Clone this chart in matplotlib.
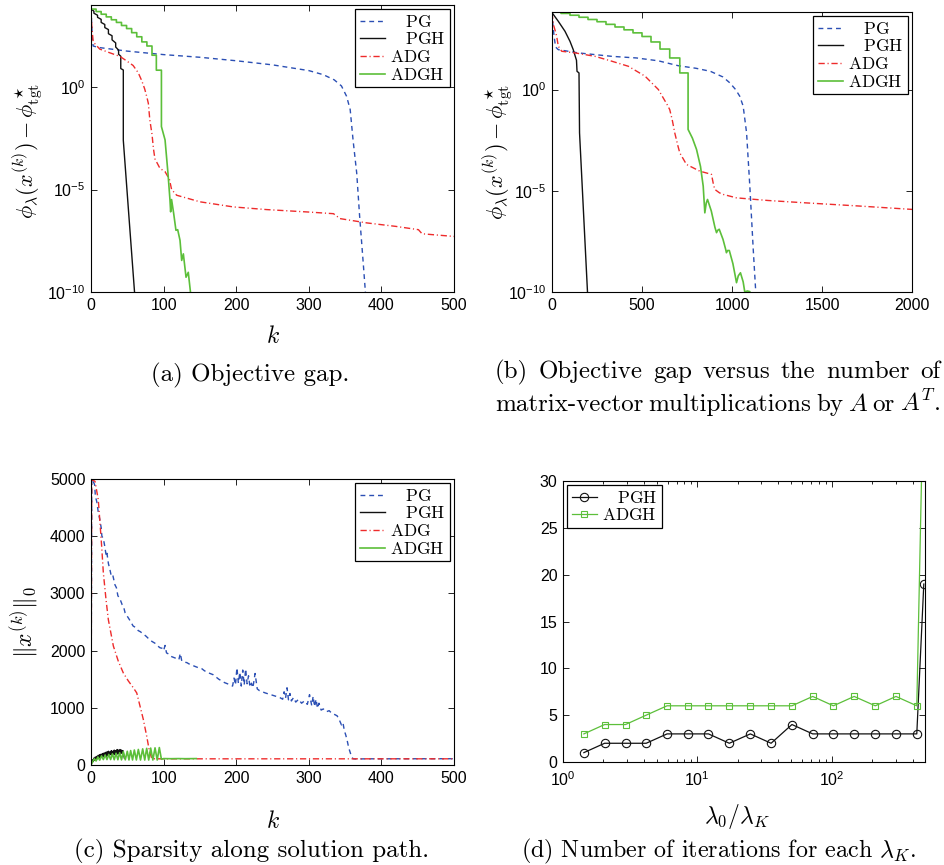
import numpy as np
import matplotlib
matplotlib.use("Agg")
import matplotlib.pyplot as plt
from matplotlib.ticker import NullLocator, LogLocator, NullFormatter

plt.rcParams["font.family"] = ["Liberation Sans", "DejaVu Sans"]
plt.rcParams["mathtext.fontset"] = "cm"
# sans math font used only for the log tick labels (math_fontfamily="custom")
plt.rcParams["mathtext.rm"] = "Liberation Sans"
plt.rcParams["mathtext.it"] = "Liberation Sans:italic"
plt.rcParams["mathtext.bf"] = "Liberation Sans:bold"

BLUE = "#2b4fb4"
RED = "#ee2b2b"
GREEN = "#5cbf3a"
BLACK = "#111111"

# ---------------- (a) objective gap vs k  (log10 of gap) ----------------
pg_a_k = [0, 1, 2, 3, 10, 50, 100, 150, 200, 250, 300, 320, 335, 345, 352, 357, 361, 366, 370, 375, 379]
pg_a_v = [3.8, 3.0, 2.3, 2.0, 1.93, 1.75, 1.58, 1.45, 1.28, 1.08, 0.8, 0.6, 0.35, 0.05, -0.45, -1.1, -2.6, -4.2, -6.3, -8.6, -10.5]

pgh_a_k = [0, 4, 4, 9, 9, 14, 14, 19, 19, 24, 24, 29, 29, 34, 34, 38, 38, 41, 41, 44.5, 44.5, 52, 61]
pgh_a_v = [3.8, 3.7, 3.6, 3.5, 3.4, 3.3, 3.15, 3.05, 2.9, 2.8, 2.6, 2.5, 2.3, 2.15, 1.95, 1.8, 1.6, 1.5, 0.9, 0.83, -2.6, -6.2, -10.5]

adg_a_k = [0, 1, 3, 12, 25, 40, 50, 58, 65, 70, 74, 77, 79, 81, 84, 86, 88, 95, 102, 108,
           111, 118, 150, 196, 242, 300, 334, 343, 380, 420, 451, 456, 500]
adg_a_v = [3.8, 3.0, 2.2, 1.85, 1.68, 1.49, 1.25, 1.05, 0.7, 0.3, -0.1, -0.5, -0.8, -1.6, -2.3, -3.0, -3.5, -3.97, -4.13, -4.5,
           -5.0, -5.28, -5.6, -5.85, -5.98, -6.1, -6.18, -6.42, -6.63, -6.8, -6.96, -7.16, -7.29]

adgh_a_edges = [0, 7, 14, 21, 28, 35, 42, 49, 56, 63, 70, 77, 84, 90, 97]
adgh_a_levels = [3.8, 3.68, 3.55, 3.42, 3.28, 3.15, 3.0, 2.85, 2.65, 2.45, 2.2, 2.0, 1.55, 0.82]
adgh_a_tail_k = [97, 102, 106, 108.8, 109.7, 111, 114, 117, 119.4, 122.6, 124.9, 127.2, 130.9, 134, 137.3, 140]
adgh_a_tail_v = [-1.93, -2.58, -4.2, -5.52, -6.09, -5.49, -6.2, -6.99, -6.96, -7.48, -8.46, -8.14, -9.28, -9.04, -10.1, -10.6]

# ---------------- (b) objective gap vs mat-vec count ----------------
pg_b_x = [0, 5, 12, 20, 35, 146, 332, 469, 590, 700, 800, 880, 950, 988, 1020, 1043, 1062, 1081, 1099, 1118, 1132, 1140]
pg_b_v = [3.8, 3.2, 2.6, 2.1, 1.97, 1.81, 1.64, 1.56, 1.42, 1.18, 1.05, 0.9, 0.62, 0.33, 0.0, -0.33, -0.82, -2.14, -4.77, -7.9, -10.0, -11.0]

pgh_b_x = [0, 35, 72, 100, 118, 132, 136, 139, 150, 153, 200]
pgh_b_v = [3.8, 3.37, 2.88, 2.38, 1.97, 1.56, 1.45, 0.9, 0.82, -2.14, -10.5]

adg_b_x = [0, 8, 18, 26, 35, 54, 128, 239, 332, 424, 517, 591, 617, 640, 654, 668, 682, 700, 710, 747,
           821, 886, 895, 904, 930, 951, 1025, 1200, 1396, 1700, 2000]
adg_b_v = [3.8, 3.2, 2.9, 2.63, 2.14, 1.89, 1.81, 1.64, 1.4, 1.15, 0.66, 0.0, -0.4, -0.75, -0.99, -1.5, -2.14, -2.8, -3.13, -3.7,
           -4.03, -4.19, -4.6, -4.93, -5.1, -5.18, -5.35, -5.48, -5.59, -5.75, -5.92]

adgh_b_edges = [0, 50, 100, 150, 200, 250, 300, 350, 400, 450, 500, 550, 600, 654, 710, 756]
adgh_b_levels = [3.82, 3.76, 3.67, 3.57, 3.46, 3.35, 3.22, 3.09, 2.95, 2.8, 2.62, 2.35, 2.0, 1.56, 0.82]
adgh_b_tail_x = [756, 780, 803, 825, 840, 849, 857, 864, 885, 905, 914, 921, 929, 950, 965,
                 969, 976, 985, 1005, 1020, 1025, 1035, 1047, 1062, 1071, 1085, 1099, 1110]
adgh_b_tail_v = [-1.97, -2.4, -2.96, -3.8, -4.77, -6.09, -5.6, -5.43, -6.0, -6.8, -7.07, -6.95, -6.9, -7.4, -7.9,
                 -8.06, -7.95, -7.95, -8.6, -9.3, -9.54, -9.2, -9.05, -9.5, -10.0, -9.95, -9.98, -10.5]

# ---------------- (c) sparsity along the path ----------------
pg_c_k = [0, 1, 3, 5, 6, 8, 10, 12, 14, 15,
          17, 19, 21, 22, 24, 26, 28, 30, 33, 35,
          37, 40, 43, 45, 47, 50, 54, 58, 62, 65,
          68, 72, 76, 80, 84, 88, 92, 95, 98, 100,
          102, 104, 107, 110, 114, 118, 121, 123, 125, 128,
          132, 136, 140, 144, 148, 152, 156, 160, 164, 168,
          172, 176, 180, 184, 188, 192, 195, 197, 199, 201,
          203, 205, 207, 209, 211, 213, 215, 217, 219, 221,
          223, 226, 229, 232, 236, 240, 245, 250, 255, 260,
          264, 266, 268, 270, 272, 274, 276, 279, 282, 286,
          290, 294, 298, 301, 304, 306, 308, 310, 312, 314,
          317, 320, 324, 328, 332, 336, 339, 342, 345, 347,
          349, 351, 353, 355, 357, 359, 361, 364, 380, 500]
pg_c_n = [0, 5000, 4960, 4900, 4700, 4600, 4420, 4300, 4150, 4000,
          3960, 3820, 3650, 3700, 3520, 3420, 3300, 3320, 3150, 3100,
          2960, 2900, 2800, 2760, 2660, 2600, 2520, 2430, 2400, 2350,
          2330, 2290, 2250, 2200, 2160, 2130, 2080, 2050, 2040, 2000,
          2090, 1960, 1940, 1900, 1880, 1860, 1840, 1950, 1820, 1800,
          1790, 1760, 1740, 1720, 1700, 1690, 1650, 1620, 1600, 1580,
          1540, 1500, 1470, 1440, 1420, 1400, 1380, 1520, 1400, 1700,
          1430, 1620, 1380, 1660, 1400, 1680, 1420, 1560, 1360, 1430,
          1350, 1600, 1330, 1300, 1280, 1260, 1240, 1220, 1200, 1180,
          1150, 1280, 1170, 1350, 1140, 1250, 1120, 1180, 1100, 1150,
          1080, 1120, 1060, 1230, 1040, 1200, 1020, 1150, 990, 1080,
          960, 980, 930, 950, 900, 880, 860, 790, 700, 740,
          600, 520, 420, 300, 220, 140, 110, 105, 108, 110]

pgh_c_n = [0, 40, 90, 60, 120, 80, 140, 100, 150, 110, 170, 120, 180, 130, 190, 140, 200, 150, 210, 160,
           220, 150, 230, 170, 240, 160, 230, 180, 250, 170, 240, 190, 260, 180, 250, 200, 270, 190, 260, 210,
           270, 200, 260, 210, 250, 180, 120]

adg_c_k = [0, 1, 5.5, 10, 12.4, 14.7, 17, 20.7, 23.9, 30.8, 37.6, 44.5, 51.4, 58.3, 63, 67.5, 72, 76.7, 80, 83.6, 88, 500]
adg_c_n = [0, 4990, 4960, 4640, 4230, 3820, 3360, 2890, 2540, 2080, 1815, 1610, 1470, 1350, 1260, 1030, 800, 506, 273, 116, 108, 108]

adgh_c_k = [0, 2, 4.5, 7, 9.5, 12, 14.5, 17, 19.5, 22, 24.5, 27, 29.5, 32, 34.5, 37, 39.5, 42, 44.5, 47.2,
            50, 52.3, 54.6, 57.2, 59.7, 62.5, 65.2, 68.2, 71.2, 74, 76.7, 79.5, 82.2, 85.2, 88.2, 91.2, 94.1, 97, 100, 110,
            120, 130, 145]
adgh_c_n = [0, 50, 110, 70, 140, 85, 160, 95, 175, 95, 185, 95, 195, 92, 205, 92, 215, 90, 233, 90,
            240, 88, 252, 88, 262, 88, 272, 87, 282, 87, 291, 87, 296, 87, 300, 87, 305, 100, 112, 110,
            112, 110, 112]

# ---------------- (d) iterations per lambda_K ----------------
lam_ratio = [1.43, 2.04, 2.92, 4.16, 5.95, 8.50, 12.1, 17.3, 24.8, 35.4, 50.6, 72.2, 103, 147, 211, 301, 430, 485]
pgh_iters = [1, 2, 2, 2, 3, 3, 3, 2, 3, 2, 4, 3, 3, 3, 3, 3, 3, 19]
adgh_iters = [3, 4, 4, 5, 6, 6, 6, 6, 6, 6, 6, 7, 6, 7, 6, 7, 6, 42]


def stairs(edges, levels):
    xs, ys = [], []
    for i, lv in enumerate(levels):
        xs += [edges[i], edges[i + 1]]
        ys += [lv, lv]
    return xs, ys


W, H = 944, 865
fig = plt.figure(figsize=(W / 100, H / 100), dpi=100)


def add_axes(x0, y0, x1, y1):
    return fig.add_axes([x0 / W, 1 - y1 / H, (x1 - x0) / W, (y1 - y0) / H])


TICK = 11.5


def style(ax):
    ax.tick_params(which="both", direction="in", top=True, right=True, labelsize=TICK, width=0.6, pad=4)
    ax.tick_params(which="major", length=4.5)
    ax.tick_params(which="minor", length=2.2)
    ax.tick_params(axis="x", pad=4.5)
    for s in ax.spines.values():
        s.set_linewidth(0.8)


def legend(ax, loc):
    leg = ax.legend(loc=loc, fontsize=12.5, fancybox=False, edgecolor="black", framealpha=1,
                    borderpad=0.25, labelspacing=0.1, handlelength=1.45, handletextpad=0.3,
                    borderaxespad=0.25)
    leg.get_frame().set_linewidth(0.9)


LABELS = [r"$\quad\mathrm{PG}$", r"$\quad\mathrm{PGH}$", r"$\mathrm{ADG}$", r"$\mathrm{ADGH}$"]
DASH = (3.5, 2.8)
DASHDOT = (4.5, 2.0, 0.8, 2.0)
p10 = lambda v: np.power(10.0, v)

ax_a = add_axes(91, 5, 454, 292)
ax_b = add_axes(552, 12, 912, 292)
ax_c = add_axes(91, 479, 454, 765)
ax_d = add_axes(563, 481, 925, 762)

# (a)
ax_a.plot(pg_a_k, p10(pg_a_v), color=BLUE, lw=1.0, dashes=DASH, label=LABELS[0])
ax_a.plot(pgh_a_k, p10(pgh_a_v), color=BLACK, lw=1.0, label=LABELS[1])
ax_a.plot(adg_a_k, p10(adg_a_v), color=RED, lw=1.0, dashes=DASHDOT, label=LABELS[2])
sx, sy = stairs(adgh_a_edges, adgh_a_levels)
ax_a.plot(sx + adgh_a_tail_k, p10(sy + adgh_a_tail_v), color=GREEN, lw=1.2, label=LABELS[3])
ax_a.set_xlim(0, 500)
ax_a.set_yscale("log")
ax_a.set_ylim(1e-10, 1e4)

# (b)
ax_b.plot(pg_b_x, p10(pg_b_v), color=BLUE, lw=1.0, dashes=DASH, label=LABELS[0])
ax_b.plot(pgh_b_x, p10(pgh_b_v), color=BLACK, lw=1.0, label=LABELS[1])
ax_b.plot(adg_b_x, p10(adg_b_v), color=RED, lw=1.0, dashes=DASHDOT, label=LABELS[2])
sx, sy = stairs(adgh_b_edges, adgh_b_levels)
ax_b.plot(sx + adgh_b_tail_x, p10(sy + adgh_b_tail_v), color=GREEN, lw=1.2, label=LABELS[3])
ax_b.set_xlim(0, 2000)
ax_b.set_yscale("log")
ax_b.set_ylim(1e-10, 10 ** 3.83)
ax_b.set_xticks([0, 500, 1000, 1500, 2000])

for ax in (ax_a, ax_b):
    ax.set_yticks([1e-10, 1e-5, 1], [r"$10^{-10}$", r"$10^{-5}$", r"$10^{0}$"], math_fontfamily="custom")
    ax.yaxis.set_minor_locator(NullLocator())
    style(ax)
    legend(ax, "upper right")
    ax.set_ylabel(r"$\phi_\lambda(x^{(k)}) - \phi^\star_{\rm tgt}$", fontsize=16, va="center")
ax_a.set_xlabel(r"$k$", fontsize=17, va="center")
ax_a.xaxis.set_label_coords(0.5, -0.157)
ax_a.yaxis.set_label_coords(-0.174, 0.49)
ax_b.yaxis.set_label_coords(-0.15, 0.5)

# (c)
ax_c.plot(pg_c_k, pg_c_n, color=BLUE, lw=1.0, dashes=DASH, label=LABELS[0])
ax_c.plot(np.arange(len(pgh_c_n)), pgh_c_n, color=BLACK, lw=1.0, label=LABELS[1])
ax_c.plot(adg_c_k, adg_c_n, color=RED, lw=1.0, dashes=DASHDOT, label=LABELS[2])
ax_c.plot(adgh_c_k, adgh_c_n, color=GREEN, lw=1.2, label=LABELS[3])
ax_c.set_xlim(0, 500)
ax_c.set_ylim(0, 5000)
ax_c.set_yticks([0, 1000, 2000, 3000, 4000, 5000])
style(ax_c)
legend(ax_c, "upper right")
ax_c.set_xlabel(r"$k$", fontsize=17, va="center")
ax_c.xaxis.set_label_coords(0.5, -0.2)
ax_c.set_ylabel(r"$\|x^{(k)}\|_0$", fontsize=17, va="center")
ax_c.yaxis.set_label_coords(-0.182, 0.5)

# (d)
ax_d.plot(lam_ratio, pgh_iters, color=BLACK, lw=0.9, marker="o", ms=6, mfc="none", mew=0.8,
          label=r"$\quad\mathrm{PGH}$")
ax_d.plot(lam_ratio, adgh_iters, color=GREEN, lw=0.9, marker="s", ms=4.6, mfc="none", mew=0.8,
          label=r"$\mathrm{ADGH}$")
ax_d.set_xscale("log")
ax_d.set_xlim(1, 495)
ax_d.set_ylim(0, 30)
ax_d.set_yticks([0, 5, 10, 15, 20, 25, 30])
ax_d.set_xticks([1, 10, 100], [r"$10^{0}$", r"$10^{1}$", r"$10^{2}$"], math_fontfamily="custom")
ax_d.xaxis.set_minor_locator(LogLocator(base=10, subs=range(2, 10)))
ax_d.xaxis.set_minor_formatter(NullFormatter())
style(ax_d)
ax_d.tick_params(axis="x", pad=6)
legend(ax_d, "upper left")
ax_d.set_xlabel(r"$\lambda_0/\lambda_K$", fontsize=17, va="center")
ax_d.xaxis.set_label_coords(0.48, -0.195)

# captions
CAP = 18


def caption(x, y, s, size=CAP):
    fig.text(x / W, 1 - y / H, s, fontsize=size, family="cmr10", ha="center", va="baseline")


def justified(words, x0, x1, y):
    r = fig.canvas.get_renderer()
    ts = [fig.text(0, 1 - y / H, w, fontsize=CAP, family="cmr10", va="baseline") for w in words]
    ws = [t.get_window_extent(r).width for t in ts]
    gap = (x1 - x0 - sum(ws)) / (len(ws) - 1)
    x = x0
    for t, w in zip(ts, ws):
        t.set_x(x / W)
        x += w + gap


caption(250, 381, "(a) Objective gap.")
justified(["(b)", "Objective", "gap", "versus", "the", "number", "of"], 495, 940, 378)
justified(["matrix-vector", "multiplications", "by", "$A$", "or", "$A^T$."], 495, 940, 411)
caption(252, 857, "(c) Sparsity along solution path.")
caption(718, 857, r"(d) Number of iterations for each $\lambda_K$.", size=17.3)

fig.savefig("out.png", dpi=100)
